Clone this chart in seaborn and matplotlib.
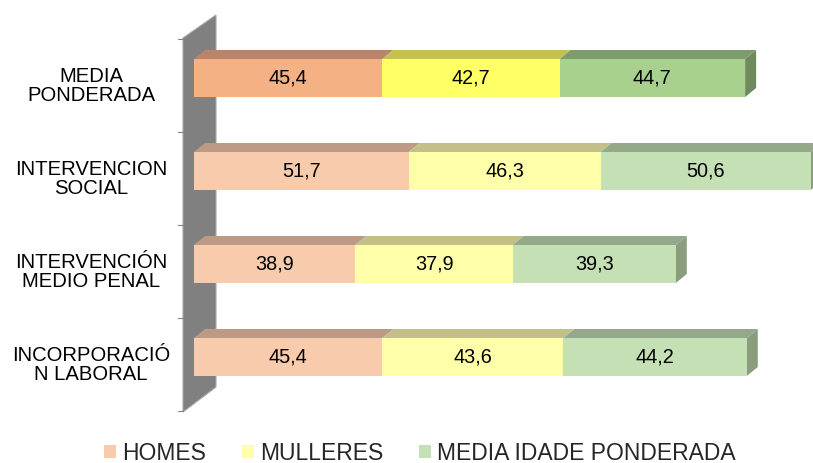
import numpy as np
import pandas as pd
import matplotlib
matplotlib.use("Agg")
import matplotlib.pyplot as plt
from matplotlib.patches import Polygon, Patch
import seaborn as sns

# Data
categories = ["MEDIA\nPONDERADA", "INTERVENCION\nSOCIAL",
              "INTERVENCIÓN\nMEDIO PENAL", "INCORPORACIÓ\nN LABORAL"]
homes = [45.4, 51.7, 38.9, 45.4]
mulleres = [42.7, 46.3, 37.9, 43.6]
media_idade = [44.7, 50.6, 39.3, 44.2]
series_names = ["HOMES", "MULLERES", "MEDIA IDADE PONDERADA"]

# colours: first row (media ponderada) is stronger than the others
front_dark = ["#F4B183", "#FFFF66", "#A9D18E"]
front_light = ["#F8CBAD", "#FFFFAA", "#C5E0B4"]
top_dark = ["#BA836A", "#C4C152", "#7E9C6B"]
top_light = ["#BC9A86", "#C2C088", "#93A98A"]
side_dark = "#6F8A5D"
side_light = "#8A9E7E"

sns.set_theme(style="white")
plt.rcParams['font.family'] = ['Liberation Sans', 'DejaVu Sans']

W, H = 813, 463
fig = plt.figure(figsize=(W / 100, H / 100), dpi=100)
ax = fig.add_axes([0, 0, 1, 1])

# pixel geometry of the reference
x0_px, px_per_unit = 194, 4.15
y0_px, px_per_cat = 78, 93
bar_h = 38 / px_per_cat
dx = 11 / px_per_unit
dy = 9 / px_per_cat


def px2x(p):
    return (p - x0_px) / px_per_unit


def px2y(p):
    return (p - y0_px) / px_per_cat


df = pd.DataFrame({"cat": categories, "HOMES": homes,
                   "MULLERES": mulleres, "MEDIA": media_idade})
vals = df[["HOMES", "MULLERES", "MEDIA"]].to_numpy()
cum = np.cumsum(vals, axis=1)

# grey 3D wall behind the category axis
wall = Polygon([(px2x(183), px2y(412)), (px2x(183), px2y(38)),
                (px2x(216), px2y(15)), (px2x(216), px2y(387))],
               closed=True, facecolor="#808080", edgecolor="#A6A6A6",
               linewidth=0.8, zorder=0)
ax.add_patch(wall)
for t in range(5):
    yt = t - 0.5 + 0.08
    ax.plot([px2x(178), px2x(183)], [yt, yt], color="#808080", lw=0.8, zorder=1)

# front faces: stacked by overlaying cumulative totals
for k in [2, 1, 0]:
    pal = {c: (front_dark[k] if i == 0 else front_light[k])
           for i, c in enumerate(categories)}
    sns.barplot(x=cum[:, k], y=categories, hue=categories, palette=pal,
                orient="h", width=bar_h, linewidth=0, legend=False,
                saturation=1, ax=ax, zorder=3)

# top faces, side face and value labels
for i in range(len(categories)):
    yt = i - bar_h / 2
    yb = i + bar_h / 2
    left = 0
    for k in range(3):
        right = cum[i, k]
        tc = top_dark[k] if i == 0 else top_light[k]
        ax.add_patch(Polygon([(left, yt), (right, yt), (right + dx, yt - dy),
                              (left + dx, yt - dy)], closed=True,
                             facecolor=tc, edgecolor="none", zorder=2))
        ax.text((left + right) / 2, i, f"{vals[i, k]:.1f}".replace(".", ","),
                ha="center", va="center", fontsize=14.3, color="black", zorder=5)
        left = right
    sc = side_dark if i == 0 else side_light
    ax.add_patch(Polygon([(left, yt), (left + dx, yt - dy), (left + dx, yb - dy),
                          (left, yb)], closed=True, facecolor=sc,
                         edgecolor="none", zorder=2))
    ax.text(px2x(91), i + 0.086, categories[i], ha="center", va="center",
            fontsize=14.6, linespacing=1.05, color="black")

ax.set_xlim(px2x(0), px2x(W))
ax.set_ylim(px2y(H), px2y(0))
ax.axis("off")

handles = [Patch(facecolor=c, edgecolor="none") for c in front_light]
fig.legend(handles, series_names, loc="center", ncol=3, frameon=False,
           bbox_to_anchor=(420 / W, 1 - 453 / H), fontsize=16.5,
           handlelength=0.52, handleheight=0.52, handletextpad=0.26,
           columnspacing=1.57, borderaxespad=0, borderpad=0)

fig.savefig("out.png", dpi=100)
